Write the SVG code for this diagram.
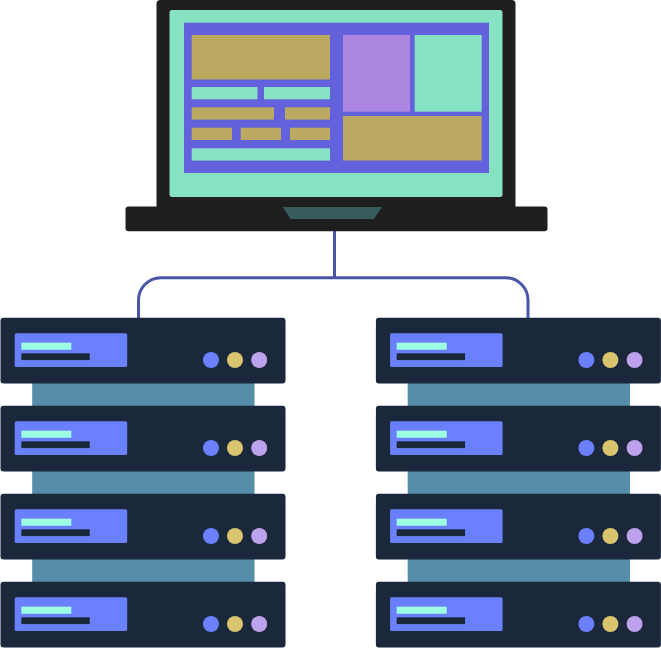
<svg xmlns="http://www.w3.org/2000/svg" xmlns:xlink="http://www.w3.org/1999/xlink" width="661" height="648" viewBox="0 0 661 648">
<style>
.dark{fill:#1f1f1f}.mint{fill:#87e2c4}.tan{fill:#bba962}.indigo{fill:#6461dd}.lilac{fill:#ac86e0}
.srv{fill:#1b273a}.pan{fill:#6a80ff}.bar{fill:#9cffe0}.link{fill:#558ca8}
.c1{fill:#6a80ff}.c2{fill:#dbc46e}.c3{fill:#bfa2ec}
.wire{fill:none;stroke:#4b55a5;stroke-width:3}
</style>
<defs>
<g id="unit">
<rect class="srv" x="0.5" y="0" width="285" height="65.8" rx="3"/>
<rect class="pan" x="14.7" y="15.6" width="112.5" height="33.6" rx="1.5"/>
<rect class="bar" x="21.3" y="25" width="50" height="7"/>
<rect class="srv" x="21.3" y="35.6" width="68.4" height="6.8"/>
<circle class="c1" cx="211" cy="42.3" r="8"/>
<circle class="c2" cx="235" cy="42.3" r="8"/>
<circle class="c3" cx="259.2" cy="42.3" r="8"/>
</g>
</defs>
<g id="connectors">
<path class="wire" d="M334.5 231V277.700"/>
<path class="wire" d="M138.500 318V300.200A22.500 22.500 0 0 1 161 277.700H505.500A22.500 22.500 0 0 1 528 300.200V318"/>
</g>
<g id="laptop">
<rect class="dark" x="156.500" y="0" width="359" height="210" rx="4"/>
<rect class="dark" x="125.500" y="206.500" width="422" height="24.800" rx="3"/>
<polygon fill="#365c5c" points="282.700,207 382,207 373.800,219 290.500,219"/>
<rect class="mint" x="169.500" y="10" width="333" height="187" rx="2.500"/>
<rect class="indigo" x="184" y="22.700" width="305" height="150.300"/>
<rect class="tan" x="191.700" y="35" width="138.300" height="44.500"/>
<rect class="mint" x="191.700" y="87" width="65.800" height="12.300"/>
<rect class="mint" x="264" y="87" width="66" height="12.300"/>
<rect class="tan" x="191.700" y="107.300" width="82.300" height="12.300"/>
<rect class="tan" x="285" y="107.300" width="45" height="12.300"/>
<rect class="tan" x="191.700" y="127.700" width="40.300" height="12.300"/>
<rect class="tan" x="240.700" y="127.700" width="40.300" height="12.300"/>
<rect class="tan" x="290" y="127.700" width="40" height="12.300"/>
<rect class="mint" x="191.700" y="148.300" width="138.300" height="12.300"/>
<rect class="lilac" x="343" y="35" width="67" height="76.700"/>
<rect class="mint" x="414.700" y="35" width="67" height="76.700"/>
<rect class="tan" x="343" y="116" width="138.700" height="44.500"/>
</g>
<g id="links-left">
<rect class="link" x="32.200" y="383" width="222.300" height="23"/>
<rect class="link" x="32.200" y="471" width="222.300" height="23"/>
<rect class="link" x="32.200" y="559" width="222.300" height="23"/>
</g>
<g id="links-right">
<rect class="link" x="407.700" y="383" width="222.300" height="23"/>
<rect class="link" x="407.700" y="471" width="222.300" height="23"/>
<rect class="link" x="407.700" y="559" width="222.300" height="23"/>
</g>
<g id="server-left-1"><use href="#unit" x="0" y="317.700"/></g>
<g id="server-left-2"><use href="#unit" x="0" y="405.700"/></g>
<g id="server-left-3"><use href="#unit" x="0" y="493.700"/></g>
<g id="server-left-4"><use href="#unit" x="0" y="581.700"/></g>
<g id="server-right-1"><use href="#unit" x="375.400" y="317.700"/></g>
<g id="server-right-2"><use href="#unit" x="375.400" y="405.700"/></g>
<g id="server-right-3"><use href="#unit" x="375.400" y="493.700"/></g>
<g id="server-right-4"><use href="#unit" x="375.400" y="581.700"/></g>
</svg>
